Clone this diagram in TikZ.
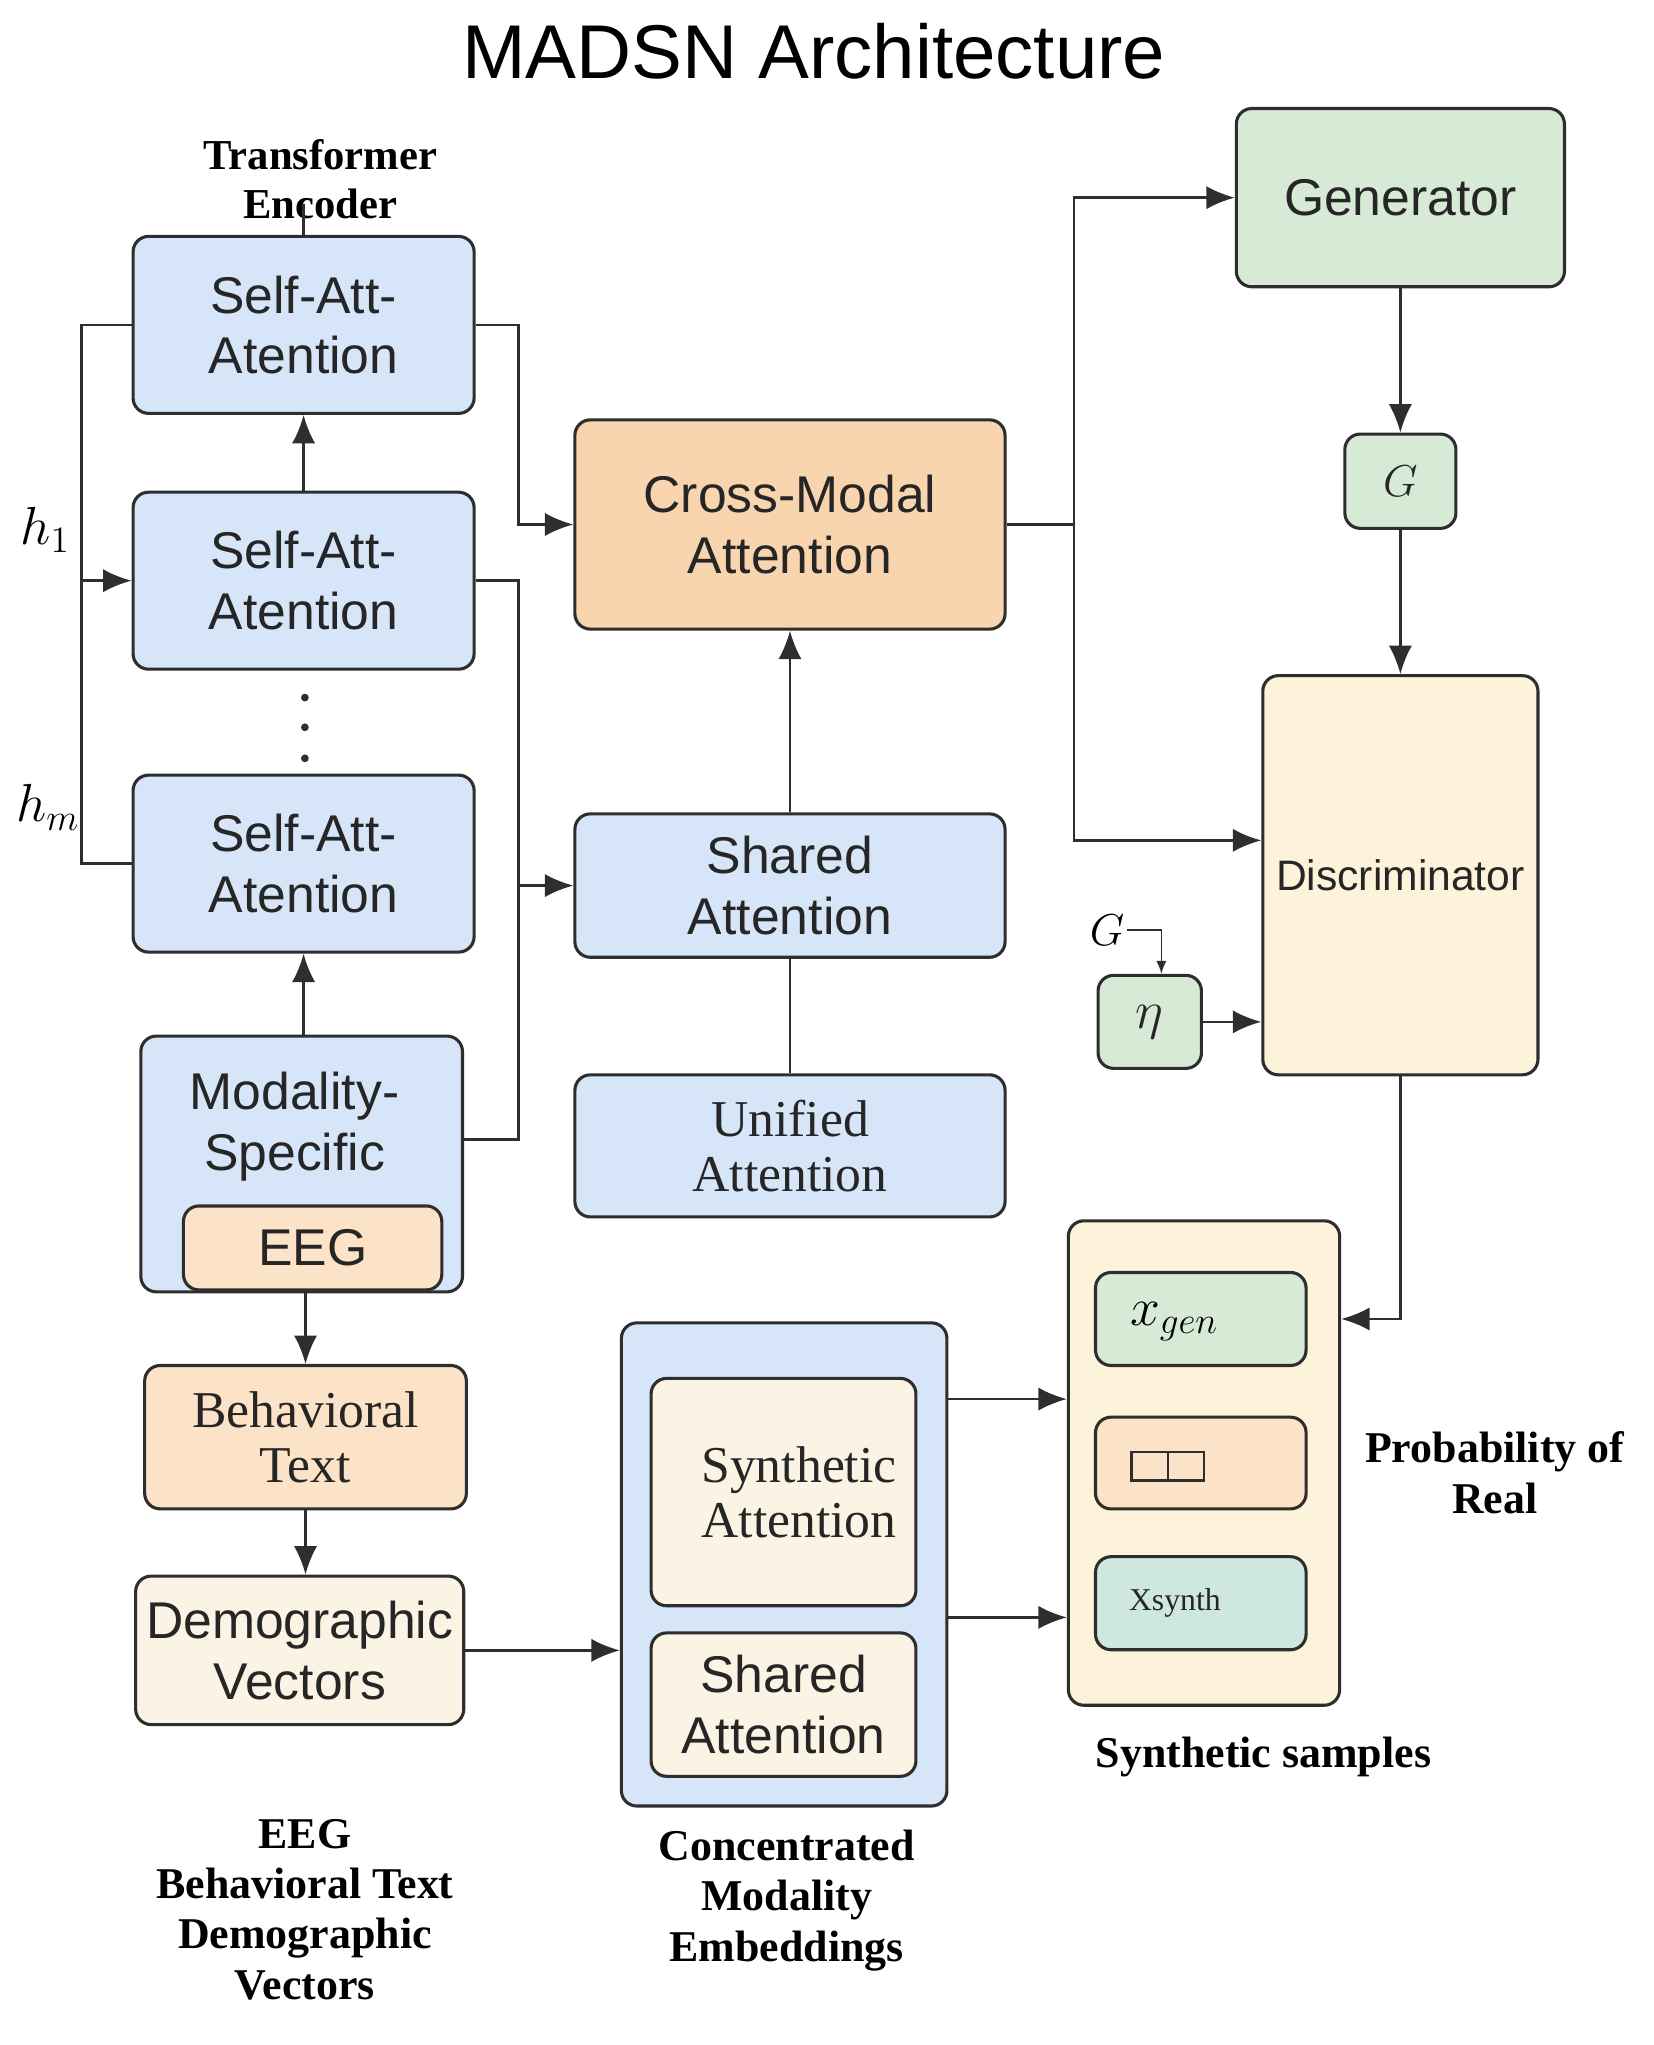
\documentclass[tikz,border=0pt]{standalone}
\usepackage{fontspec}
\setmainfont{Liberation Serif}
\setsansfont{Liberation Sans}
\usetikzlibrary{arrows.meta}
\definecolor{edge}{HTML}{2E2E2E}
\definecolor{blueF}{HTML}{D6E6F8}
\definecolor{peachF}{HTML}{F8D5AE}
\definecolor{peachL}{HTML}{FCE3C7}
\definecolor{creamF}{HTML}{FDF2DA}
\definecolor{creamL}{HTML}{FBF3E3}
\definecolor{greenF}{HTML}{D6EAD5}
\definecolor{tealF}{HTML}{CFE8DF}
\newcommand{\boxfont}{\sffamily\fontsize{20}{23.5}\selectfont}
\newcommand{\serifboxfont}{\rmfamily\fontsize{20}{21.5}\selectfont}
\newcommand{\capfont}{\rmfamily\bfseries\fontsize{17}{19.5}\selectfont}
\newcommand{\mathlblfont}{\fontsize{21}{23}\selectfont}

\begin{document}
\begin{tikzpicture}[x=0.5pt,y=-0.5pt,
  box/.style={draw=edge,line width=1.2pt,rounded corners=6pt,inner sep=2pt,align=center,font=\boxfont,text=black!85},
  wh/.style 2 args={minimum width={#1*0.5pt},minimum height={#2*0.5pt}},
  bluebox/.style={box,fill=blueF},
  peachbox/.style={box,fill=peachF},
  creambox/.style={box,fill=creamF},
  greenbox/.style={box,fill=greenF},
  serifbox/.style={font=\serifboxfont},
  caption/.style={font=\capfont,align=center,inner sep=0pt},
  conn/.style={draw=edge,line width=1pt},
  arr/.style={conn,-{Latex[length=11pt,width=9pt]}}]
\useasboundingbox (0,0) rectangle (1280,1583);
\node[font=\sffamily\fontsize{29.5}{32}\selectfont] (title) at (630,40) {MADSN Architecture};
\node[caption,font=\rmfamily\bfseries\fontsize{16.5}{19}\selectfont] (enc) at (248,139) {Transformer\\Encoder};
\coordinate (enctick) at (235,158);
\node[bluebox,wh={264}{137}] (sa1) at (235,251.5) {Self-Att-\\Atention};
\node[bluebox,wh={264}{137}] (sa2) at (235,449.5) {Self-Att-\\Atention};
\node[bluebox,wh={264}{137}] (sa3) at (235,668.5) {Self-Att-\\Atention};
\foreach \y in {540,563,587} \fill[edge] (236,\y) circle (1.5pt);
\coordinate (bus) at (63,449.5);
\node[font=\mathlblfont] (h1) at (35,410) {$h_1$};
\node[font=\mathlblfont] (hm) at (37,625) {$h_m$};
\node[bluebox,wh={249}{198}] (ms) at (233.5,901) {};
\node[font=\boxfont,align=center,text=black!85] (mstext) at (228,872) {Modality-\\Specific};
\node[box,fill=peachL,wh={200}{65}] (eeg) at (242,966) {EEG};
\node[box,fill=peachL,serifbox,wh={249}{111}] (beh) at (236.5,1112.5) {Behavioral\\Text};
\node[box,fill=creamL,wh={254}{115}] (demo) at (232,1277.5) {Demographic\\Vectors};
\node[caption] (lblin) at (236,1478) {EEG\\Behavioral Text\\Demographic\\Vectors};
\node[peachbox,wh={333}{162}] (cm) at (611.5,406) {Cross-Modal\\Attention};
\node[bluebox,wh={333}{111}] (sh) at (611.5,685.5) {Shared\\Attention};
\node[bluebox,serifbox,wh={333}{110}] (un) at (611.5,887) {Unified\\Attention};
\node[bluebox,wh={252}{374}] (conc) at (607,1211) {};
\node[box,fill=creamL,serifbox,wh={205}{176}] (syn) at (606.5,1155) {\hspace*{12pt}Synthetic\\\hspace*{12pt}Attention};
\node[box,fill=creamL,wh={205}{111}] (sh2) at (606.5,1319.5) {Shared\\Attention};
\node[caption] (lblconc) at (609,1471) {Concentrated\\Modality\\Embeddings};
\node[greenbox,wh={254}{138}] (gen) at (1084,153) {Generator};
\node[greenbox,wh={86}{73},font=\fontsize{19}{21}\selectfont] (g) at (1084,372.5) {$G$};
\node[creambox,wh={213}{309},font=\sffamily\fontsize{16.5}{19}\selectfont] (disc) at (1084,677.5) {Discriminator};
\node[greenbox,wh={80}{72},font=\fontsize{20}{22}\selectfont] (eta) at (890,791) {$\eta$};
\node[font=\fontsize{17}{19}\selectfont,inner sep=1pt] (glbl) at (857,720) {$G$};
\node[creambox,wh={210}{375}] (samp) at (932,1132.5) {};
\node[greenbox,wh={163}{72}] (xgen) at (929.5,1021) {};
\node[font=\fontsize{22}{24}\selectfont] (xgentext) at (909,1023) {$x_{gen}$};
\node[box,fill=peachL,wh={163}{71}] (mid) at (929.5,1132.5) {};
\draw[edge,line width=1pt] (876,1124) rectangle (932,1146);
\draw[edge,line width=1pt] (904,1124) -- (904,1146);
\node[box,fill=tealF,wh={163}{72},font=\rmfamily\fontsize{12.3}{14}\selectfont] (xs) at (929.5,1241) {\hspace*{-20pt}Xsynth};
\node[caption] (lblprob) at (1157,1140) {Probability of\\Real};
\node[caption] (lblsamp) at (978,1360) {Synthetic samples};
\draw[conn] (enctick) -- (sa1.north);
\draw[arr] (sa2) -- (sa1);
\draw[arr] (sa3.south |- ms.north) -- (sa3.south);
\draw[conn] (sa1.west) -| (bus) |- (sa3.west);
\draw[arr] (bus) -- (sa2.west);
\draw[arr] (sa1.east) -- ++(33,0) |- (cm.west);
\draw[conn] (sa2.east) -- ++(33,0) coordinate (jb) |- ([yshift=9.5pt]ms.east);
\draw[arr] (jb |- sh.west) -- (sh.west);
\draw[arr] (sh) -- (cm);
\draw[conn] (un) -- (sh);
\draw[arr] (beh.north |- ms.south) -- (beh.north);
\draw[arr] (beh.south) -- (beh.south |- demo.north);
\draw[arr] (demo.east) -- (demo.east -| conc.west);
\draw[conn] (cm.east) -- ++(52,0) coordinate (jc);
\draw[arr] (jc) |- (gen.west);
\draw[arr] (jc) |- ([yshift=13.5pt]disc.west);
\draw[arr] (gen) -- (g);
\draw[arr] (g) -- (disc);
\draw[arr] (eta) -- (eta -| disc.west);
\draw[edge,line width=0.6pt,-{Latex[length=5pt,width=4pt]}] (glbl.east) -| ([xshift=4.5pt]eta.north);
\draw[arr] (disc.south) |- (samp.east |- xgen);
\coordinate (ca) at ([yshift=64pt]conc.east);
\coordinate (cb) at ([yshift=-20.5pt]conc.east);
\draw[arr] (ca) -- (ca -| samp.west);
\draw[arr] (cb) -- (cb -| samp.west);
\end{tikzpicture}
\end{document}
